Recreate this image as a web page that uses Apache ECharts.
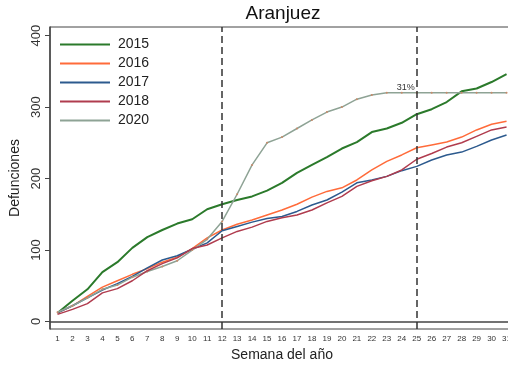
<!DOCTYPE html>
<html><head><meta charset="utf-8">
<script src="https://cdn.jsdelivr.net/npm/echarts@6/dist/echarts.min.js"></script>
<style>html,body{margin:0;padding:0;background:#fff}#c{width:508px;height:367px}</style>
</head><body><div id="c"></div>
<script>
var weeks = ["1","2","3","4","5","6","7","8","9","10","11","12","13","14","15","16","17","18","19","20","21","22","23","24","25","26","27","28","29","30","31","32"];
var yTicks = [0,100,200,300,400];
var d2015 = [12,29,45,69,83,103,118,128,137,143,157,164,170,175,183,194,208,219,230,242,251,265,270,278,290,297,307,322,326,335,346];
var d2016 = [12,22,35,48,57,66,74,83,90,102,117,128,136,142,149,156,164,174,182,187,198,212,224,233,243,247,251,258,268,276,280];
var d2017 = [12,22,33,44,53,63,75,86,92,101,110,127,133,139,144,147,154,163,170,181,194,198,203,211,217,226,233,237,245,254,261];
var d2018 = [10,17,25,40,46,57,71,81,89,102,107,117,126,132,140,145,149,156,166,175,189,197,203,212,227,235,244,250,259,268,272];
var d2020 = [13,22,33,45,51,62,70,77,85,100,115,140,178,219,250,258,270,282,293,300,311,317,320,320,320,320,320,320,320,320,320];
var markWeeks = ["12","25"];
var pctLabel = "31%";
var pctWeek = "25";
var pctValue = 320;

var colors = {"2015":"#2b7a2b","2016":"#ff6b3a","2017":"#2c5a8e","2018":"#b03c4e","2020":"#8ea395"};

var chart = echarts.init(document.getElementById('c'), null, {renderer:'canvas'});
function line(name, data, width, extra){
  var s = {name:name, type:'line', data:data, symbol:'none', smooth:false,
    lineStyle:{color:colors[name], width:width}, itemStyle:{color:colors[name]}, z:3};
  if (extra) for (var k in extra) s[k]=extra[k];
  return s;
}
chart.setOption({
  animation:false,
  title:{text:'Aranjuez', left:283, top:4, textAlign:'center', padding:0,
    textStyle:{fontFamily:'Liberation Sans, Arial', fontSize:19, fontWeight:'normal', color:'#111'}},
  legend:{orient:'vertical', left:60, top:35, padding:0, itemWidth:50, itemHeight:2, itemGap:0, icon:'rect',
    textStyle:{fontFamily:'Liberation Sans, Arial', fontSize:14, color:'#222', lineHeight:19, padding:[0,0,0,3]},
    data:[
      {name:'2015', itemStyle:{color:colors['2015']}},
      {name:'2016', itemStyle:{color:colors['2016']}},
      {name:'2017', itemStyle:{color:colors['2017']}},
      {name:'2018', itemStyle:{color:colors['2018']}},
      {name:'2020', itemStyle:{color:colors['2020']}}
    ]},
  grid:{left:50, top:27, bottom:38, width:479, show:true, borderColor:'#444', borderWidth:1,
    containLabel:false, outerBoundsMode:'none'},
  xAxis:{type:'category', data:weeks, boundaryGap:true,
    name:'Semana del año', nameLocation:'middle', nameGap:17,
    nameTextStyle:{fontFamily:'Liberation Sans, Arial', fontSize:14, color:'#222', padding:[0,15,0,0]},
    axisLine:{lineStyle:{color:'#444', width:1.5}},
    axisTick:{alignWithLabel:true, length:4, lineStyle:{color:'#444'}},
    axisLabel:{interval:0, fontFamily:'Liberation Sans, Arial', fontSize:8, color:'#333', margin:6},
    splitLine:{show:false}},
  yAxis:{type:'value', min:-10.5, max:412,
    name:'Defunciones', nameLocation:'middle', nameGap:24,
    nameTextStyle:{fontFamily:'Liberation Sans, Arial', fontSize:14, color:'#222'},
    axisLine:{show:true, lineStyle:{color:'#444', width:1.5}},
    axisTick:{show:true, length:5, customValues:yTicks, lineStyle:{color:'#444'}},
    axisLabel:{customValues:yTicks, rotate:90, fontFamily:'Liberation Sans, Arial', fontSize:13, color:'#333', margin:7},
    splitLine:{show:false}},
  series:[
    line('2015', d2015, 2),
    line('2016', d2016, 1.5),
    line('2017', d2017, 1.5),
    line('2018', d2018, 1.5, {z:4}),
    line('2020', d2020, 1.5, {
      symbol:'circle', symbolSize:2, showSymbol:true,
      itemStyle:{color:'#c98a6a'},
      markLine:{silent:true, symbol:['none','none'], label:{show:false},
        lineStyle:{color:'#333', type:[7,4], width:1.5},
        data:markWeeks.map(function(w){return {xAxis:w};})},
      markPoint:{silent:true, symbol:'circle', symbolSize:0,
        label:{show:true, formatter:pctLabel, position:'left', offset:[2,-5], distance:4,
          fontFamily:'Liberation Sans, Arial', fontSize:9, color:'#333'},
        data:[{coord:[pctWeek, pctValue]}]}
    })
  ]
});
</script></body></html>
